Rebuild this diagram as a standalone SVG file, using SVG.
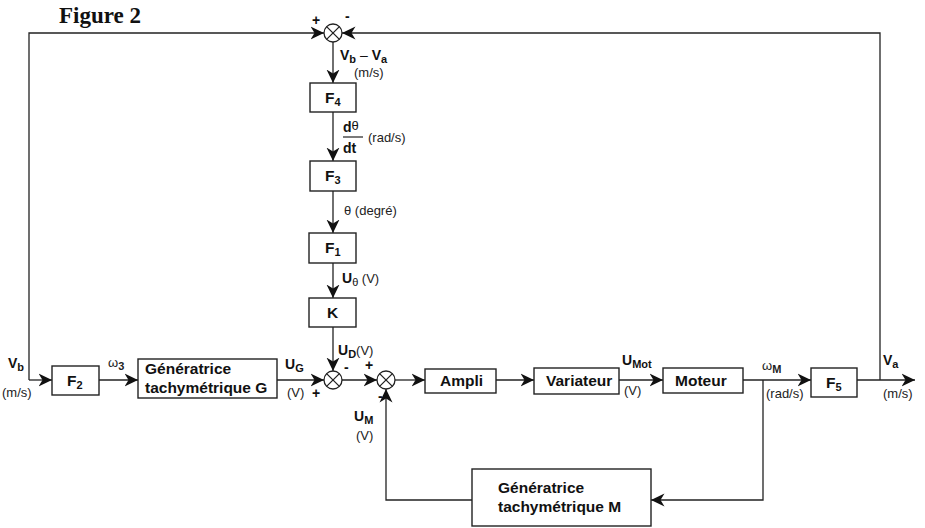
<svg xmlns="http://www.w3.org/2000/svg" width="925" height="528" viewBox="0 0 925 528">
<style>
.box{fill:#fff;stroke:#222;stroke-width:1.4}
.ln{fill:none;stroke:#222;stroke-width:1.3}
.arr{marker-end:url(#ah)}
.bt{font-family:"Liberation Sans",Arial,sans-serif;font-weight:bold;font-size:15.5px;fill:#111}
.lb{font-family:"Liberation Sans",Arial,sans-serif;font-weight:bold;font-size:14px;fill:#111}
.sb{font-size:11px}
.sm{font-family:"Liberation Sans",Arial,sans-serif;font-weight:normal;font-size:13px;fill:#222}
.sg{font-family:"Liberation Sans",Arial,sans-serif;font-weight:bold;font-size:14px;fill:#111}
.fig{font-family:"Liberation Serif","Times New Roman",serif;font-weight:bold;font-size:23px;fill:#111}
.sum{fill:#fff;stroke:#222;stroke-width:1.3}
</style>
<defs>
<marker id="ah" markerUnits="userSpaceOnUse" markerWidth="15" markerHeight="15" refX="13.5" refY="7" orient="auto">
<path d="M0,0.5 L13.5,7 L0,13.5 L4,7 Z" fill="#111"/>
</marker>
</defs>
<rect width="925" height="528" fill="#fff"/>
<text class="fig" x="59" y="23">Figure 2</text>

<g id="connectors">
<path class="ln arr" d="M29,380 L29,33 L324,33"/>
<path class="ln arr" d="M29,380 L52,380"/>
<path class="ln arr" d="M880,380 L880,33 L342,33"/>
<path class="ln arr" d="M333,42 L333,83"/>
<path class="ln arr" d="M333,112 L333,161"/>
<path class="ln arr" d="M333,191 L333,233"/>
<path class="ln arr" d="M333,263 L333,298"/>
<path class="ln arr" d="M333,327 L333,371"/>
<path class="ln arr" d="M99,380 L138,380"/>
<path class="ln arr" d="M277,380 L324,380"/>
<path class="ln arr" d="M342,380 L377,380"/>
<path class="ln arr" d="M395,380 L425,380"/>
<path class="ln arr" d="M496,380 L534,380"/>
<path class="ln arr" d="M619,380 L663,380"/>
<path class="ln arr" d="M743,380 L811,380"/>
<path class="ln arr" d="M857,380 L915,380"/>
<path class="ln arr" d="M763,380 L763,500 L651,500"/>
<path class="ln arr" d="M472,500 L386,500 L386,389"/>
</g>

<g id="sum_top">
<circle class="sum" cx="333" cy="33" r="9"/>
<path class="ln" d="M326.6,26.6 L339.4,39.4 M339.4,26.6 L326.6,39.4"/>
<text class="sg" x="312" y="25">+</text>
<text class="sg" x="345" y="21">-</text>
</g>
<g id="sum_ud">
<circle class="sum" cx="333" cy="380" r="9"/>
<path class="ln" d="M326.6,373.6 L339.4,386.4 M339.4,373.6 L326.6,386.4"/>
<text class="sg" x="312" y="398">+</text>
<text class="sg" x="344" y="372">-</text>
</g>
<g id="sum_um">
<circle class="sum" cx="386" cy="380" r="9"/>
<path class="ln" d="M379.6,373.6 L392.4,386.4 M392.4,373.6 L379.6,386.4"/>
<text class="sg" x="365" y="370">+</text>
<text class="sg" x="378" y="401">-</text>
</g>

<g id="F4">
<rect class="box" x="310" y="83" width="46" height="29"/>
<text class="bt" x="325" y="103">F<tspan class="sb" dy="3">4</tspan></text>
</g>
<g id="F3">
<rect class="box" x="310" y="161" width="46" height="30"/>
<text class="bt" x="325" y="181">F<tspan class="sb" dy="3">3</tspan></text>
</g>
<g id="F1">
<rect class="box" x="309" y="233" width="47" height="30"/>
<text class="bt" x="325" y="253">F<tspan class="sb" dy="3">1</tspan></text>
</g>
<g id="K">
<rect class="box" x="309" y="298" width="47" height="29"/>
<text class="bt" x="327" y="318">K</text>
</g>
<g id="F2">
<rect class="box" x="52" y="366" width="47" height="29"/>
<text class="bt" x="67" y="386">F<tspan class="sb" dy="3">2</tspan></text>
</g>
<g id="GenG">
<rect class="box" x="138" y="359" width="139" height="39"/>
<text class="bt" x="145" y="374">Génératrice</text>
<text class="bt" x="145" y="393">tachymétrique G</text>
</g>
<g id="Ampli">
<rect class="box" x="425" y="369" width="71" height="24"/>
<text class="bt" x="440" y="386">Ampli</text>
</g>
<g id="Variateur">
<rect class="box" x="534" y="368" width="85" height="26"/>
<text class="bt" x="546" y="386">Variateur</text>
</g>
<g id="Moteur">
<rect class="box" x="663" y="368" width="80" height="25"/>
<text class="bt" x="675" y="386">Moteur</text>
</g>
<g id="F5">
<rect class="box" x="811" y="368" width="46" height="29"/>
<text class="bt" x="826" y="388">F<tspan class="sb" dy="3">5</tspan></text>
</g>
<g id="GenM">
<rect class="box" x="472" y="469" width="179" height="57"/>
<text class="bt" x="498" y="493">Génératrice</text>
<text class="bt" x="498" y="512">tachymétrique M</text>
</g>

<g id="labels">
<text class="lb" x="340" y="60">V<tspan class="sb" dy="3">b</tspan><tspan dy="-3" font-weight="normal"> – </tspan>V<tspan class="sb" dy="3">a</tspan></text>
<text class="sm" x="354" y="77">(m/s)</text>
<text class="lb" x="343" y="132">d<tspan font-weight="normal" font-size="13px" dy="-2">θ</tspan></text>
<line x1="343" y1="137" x2="363" y2="137" stroke="#222" stroke-width="1.2"/>
<text class="lb" x="343" y="153">dt</text>
<text class="sm" x="368" y="142">(rad/s)</text>
<text class="sm" x="344" y="215">θ (degré)</text>
<text class="lb" x="342" y="283">U<tspan class="sb" font-weight="normal" dy="3">θ</tspan><tspan class="sm" dy="-3"> (V)</tspan></text>
<text class="lb" x="338" y="355">U<tspan class="sb" dy="3">D</tspan><tspan class="sm" dy="-3">(V)</tspan></text>
<text class="lb" x="8" y="368">V<tspan class="sb" dy="3">b</tspan></text>
<text class="sm" x="2" y="397">(m/s)</text>
<text class="sm" x="108" y="367">ω<tspan class="sb" font-weight="bold" dy="3">3</tspan></text>
<text class="lb" x="285" y="369">U<tspan class="sb" dy="3">G</tspan></text>
<text class="sm" x="287" y="397">(V)</text>
<text class="lb" x="354" y="421">U<tspan class="sb" dy="3">M</tspan></text>
<text class="sm" x="356" y="440">(V)</text>
<text class="lb" x="622" y="365">U<tspan class="sb" dy="3">Mot</tspan></text>
<text class="sm" x="624" y="395">(V)</text>
<text class="sm" x="762" y="370">ω<tspan class="sb" font-weight="bold" dy="3">M</tspan></text>
<text class="sm" x="766" y="398">(rad/s)</text>
<text class="lb" x="883" y="365">V<tspan class="sb" dy="3">a</tspan></text>
<text class="sm" x="883" y="398">(m/s)</text>
</g>
</svg>
